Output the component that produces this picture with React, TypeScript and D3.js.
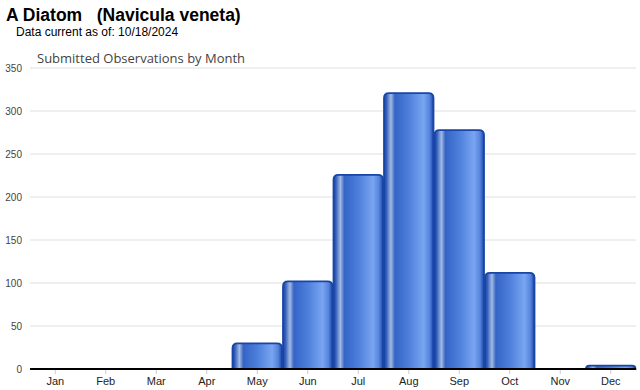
import React from "react";
import * as d3 from "d3";

const months = ["Jan", "Feb", "Mar", "Apr", "May", "Jun", "Jul", "Aug", "Sep", "Oct", "Nov", "Dec"];
const counts = [0, 0, 0, 0, 31, 103, 227, 322, 279, 113, 0, 5];
const yTicks = [0, 50, 100, 150, 200, 250, 300, 350];

const width = 640;
const height = 390;
const margin = { top: 68, right: 4, bottom: 21, left: 30 };

// rounded top corners only
const barPath = (x: number, y: number, w: number, h: number, r: number) => {
    const rr = Math.min(r, h, w / 2);
    return `M${x},${y + h}V${y + rr}Q${x},${y} ${x + rr},${y}H${x + w - rr}Q${x + w},${y} ${x + w},${y + rr}V${y + h}Z`;
};

const App = () => {
    const x = d3.scaleBand()
        .domain(months)
        .range([margin.left, width - margin.right])
        .paddingInner(0.02)
        .paddingOuter(0.01);

    const y = d3.scaleLinear()
        .domain([0, 350])
        .range([height - margin.bottom, margin.top]);

    const stops = [
        [0, "#1a44a4"], [0.05, "#3660bd"], [0.14, "#a3bbe2"], [0.22, "#3564c6"],
        [0.5, "#4d7fdb"], [0.8, "#79a5f1"], [0.92, "#5584dc"], [1, "#1a46a8"],
    ];

    return (
        <div style={{ position: "absolute", left: 0, top: 0 }}>
            <svg width={width} height={height} style={{ display: "block", background: "#fff" }}>
                <defs>
                    <linearGradient id="barGrad" x1="0" x2="1" y1="0" y2="0">
                        {stops.map(([o, c]) => (
                            <stop key={String(o)} offset={String(o)} stopColor={String(c)} />
                        ))}
                    </linearGradient>
                </defs>

                <text x={6} y={21} fontFamily="Liberation Sans, Arial" fontWeight="bold" fontSize={17.5} fill="#000" style={{ whiteSpace: "pre" }}>
                    {"A Diatom   (Navicula veneta)"}
                </text>
                <text x={16} y={36} fontFamily="Liberation Sans, Arial" fontSize={12} fill="#000">
                    Data current as of: 10/18/2024
                </text>
                <text x={37} y={63} fontFamily="Open Sans, sans-serif" fontSize={13} fill="#444">
                    Submitted Observations by Month
                </text>

                {yTicks.map(t => (
                    <g key={t}>
                        {t > 0 && (
                            <line x1={margin.left} x2={width - margin.right} y1={y(t)} y2={y(t)} stroke="#e0e0e0" strokeWidth={1} />
                        )}
                        <text x={22} y={y(t)} dy="0.35em" textAnchor="end" fontFamily="Liberation Sans, Arial" fontSize={10} fill="#444">
                            {t}
                        </text>
                    </g>
                ))}

                {months.map((m, i) => counts[i] > 0 && (
                    <path
                        key={m}
                        d={barPath(x(m)!, y(counts[i]) + 1, x.bandwidth(), y(0) - y(counts[i]) - 1, 5)}
                        fill="url(#barGrad)"
                        stroke="#1946a6"
                        strokeWidth={1.8}
                    />
                ))}

                <line x1={margin.left} x2={width - margin.right} y1={y(0)} y2={y(0)} stroke="#000" strokeWidth={2} />

                {months.map(m => (
                    <g key={m}>
                        <line x1={x(m)! + x.bandwidth() / 2} x2={x(m)! + x.bandwidth() / 2} y1={y(0) + 1} y2={y(0) + 5} stroke="#ccc" />
                        <text x={x(m)! + x.bandwidth() / 2} y={385} textAnchor="middle" fontFamily="Liberation Sans, Arial" fontSize={11} fill="#222">
                            {m}
                        </text>
                    </g>
                ))}
            </svg>
        </div>
    );
};

export default App;
